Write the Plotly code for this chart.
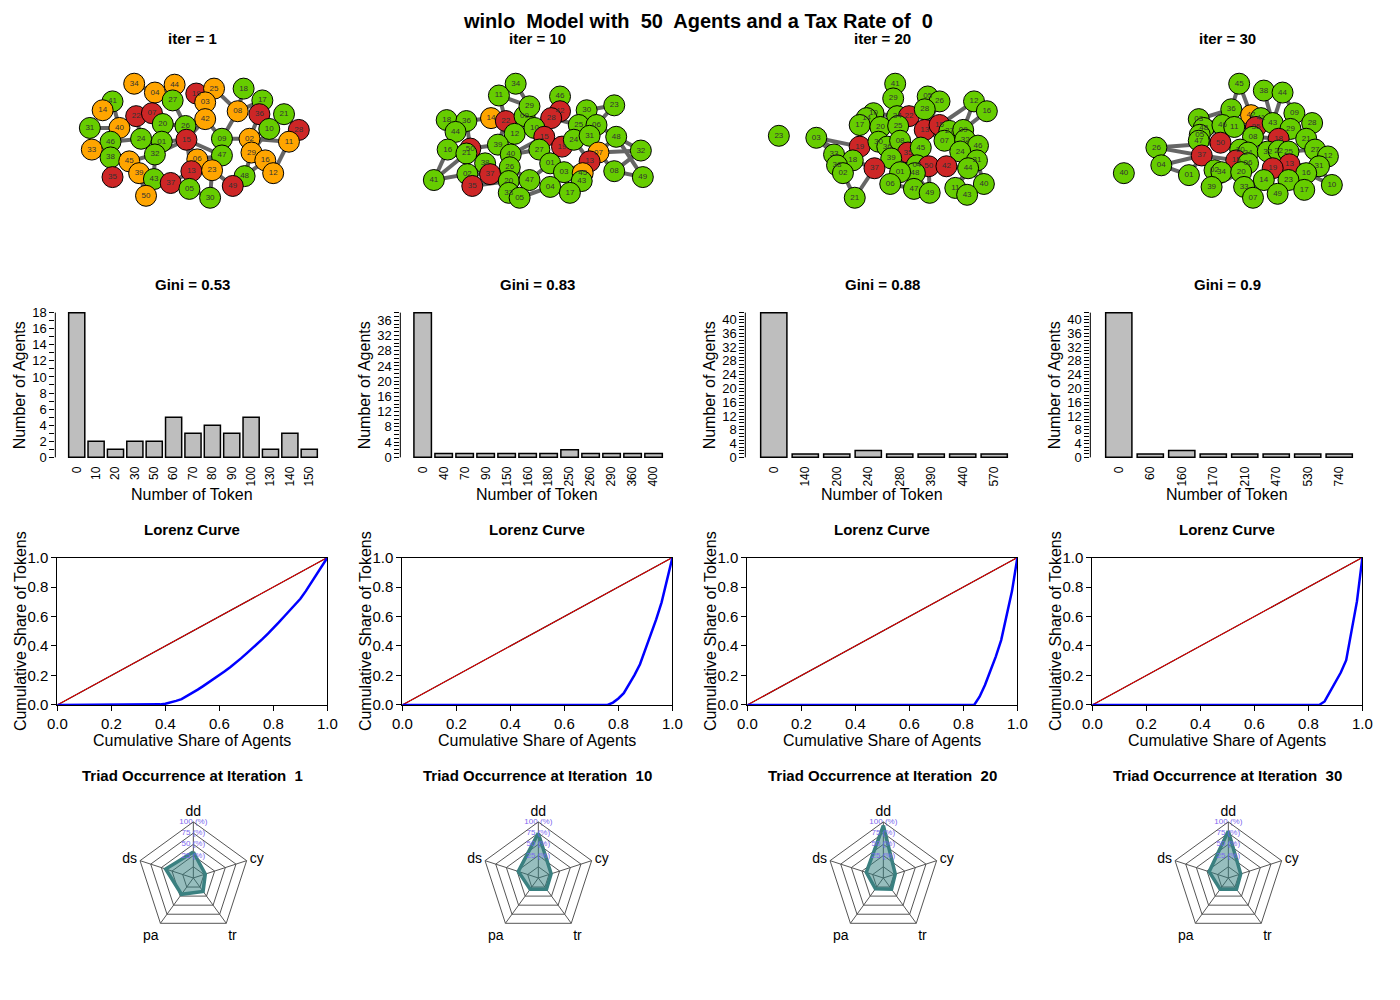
import plotly.graph_objects as go

W, H = 1400, 1000

iters = [1, 10, 20, 30]
gini = ["0.53", "0.83", "0.88", "0.9"]

# token histogram per iteration
tok1 = [0, 10, 20, 30, 50, 60, 70, 80, 90, 100, 130, 140, 150]
cnt1 = [18, 2, 1, 2, 2, 5, 3, 4, 3, 5, 1, 3, 1]
tok10 = [0, 40, 70, 90, 150, 160, 180, 250, 260, 290, 360, 400]
cnt10 = [38, 1, 1, 1, 1, 1, 1, 2, 1, 1, 1, 1]
tok20 = [0, 140, 200, 240, 280, 390, 440, 570]
cnt20 = [42, 1, 1, 2, 1, 1, 1, 1]
tok30 = [0, 60, 160, 170, 210, 470, 530, 740]
cnt30 = [42, 1, 2, 1, 1, 1, 1, 1]

# triad census (%)
triad_axes = ["dd", "cy", "tr", "pa", "ds"]
triad1 = [33, 3, 12, 20, 40]
triad10 = [75, 5, 6, 6, 22]
triad20 = [92, 3, 6, 5, 15]
triad30 = [80, 4, 6, 6, 20]
triad_ticks = [0, 25, 50, 75, 100]

# network layouts: label, x, y, state (g=green o=orange r=red)
net1_lab = ["34", "04", "44", "19", "25", "18", "41", "27", "03", "17", "14", "22", "07", "08", "36", "21", "42",
            "31", "40", "20", "26", "10", "28", "46", "24", "01", "15", "09", "02", "11", "33", "32", "47", "29",
            "16", "38", "45", "06", "12", "35", "39", "43", "13", "23", "48", "37", "05", "49", "50", "30"]
net1_x = [126, 147, 167, 189, 207, 237, 104, 165, 198, 256, 94, 128, 144, 231, 253, 278, 198,
          81, 111, 155, 178, 263, 293, 102, 133, 154, 179, 215, 243, 283, 83, 147, 215, 245,
          259, 102, 121, 190, 267, 104, 131, 146, 184, 205, 238, 163, 182, 226, 138, 203]
net1_y = [76, 85, 77, 86, 81, 81, 94, 93, 95, 93, 103, 109, 106, 104, 107, 107, 112,
          121, 121, 117, 119, 122, 123, 135, 132, 135, 133, 132, 132, 135, 143, 148, 149, 146,
          154, 151, 155, 153, 167, 171, 167, 173, 165, 164, 170, 177, 183, 180, 190, 192]
net1_st = ["o", "o", "o", "r", "o", "g", "g", "g", "o", "g", "o", "r", "r", "o", "r", "g", "o",
           "g", "o", "g", "g", "g", "r", "g", "g", "g", "r", "g", "o", "o", "o", "g", "g", "o",
           "o", "g", "o", "o", "o", "r", "o", "g", "r", "o", "g", "r", "g", "r", "o", "g"]
net1_edges = ("41-40 40-46 46-24 24-01 01-20 20-07 07-22 22-40 14-41 31-40 33-46 46-38 38-45 45-39 39-43 "
              "43-37 37-05 05-13 13-06 06-23 23-30 23-49 49-48 48-16 16-29 29-02 02-09 09-47 47-23 47-15 "
              "15-26 26-42 42-03 03-19 19-25 25-08 08-17 17-36 36-10 10-21 21-28 10-02 02-11 11-12 12-16 "
              "32-01 32-43 32-15 15-13 24-32 26-20 27-04 04-07 27-26 44-27 34-04 08-09 09-42 36-02 01-15 "
              "45-32 35-38 50-39 30-05 06-47 10-29 18-08 22-24 42-15 13-37 06-15 48-29")

net10_lab = ["34", "11", "46", "23", "18", "36", "14", "22", "09", "29", "42", "28", "30", "25", "06", "44", "12",
             "10", "15", "19", "24", "31", "48", "16", "50", "21", "39", "40", "27", "07", "32", "13", "38", "26",
             "01", "03", "45", "08", "41", "02", "37", "49", "20", "47", "43", "35", "33", "04", "17", "05"]
net10_x = [513, 496, 558, 613, 443, 463, 488, 503, 522, 527, 558, 549, 585, 577, 595, 452, 512,
           532, 542, 560, 572, 588, 615, 444, 467, 463, 495, 508, 537, 597, 640, 588, 482, 507,
           548, 562, 581, 613, 430, 464, 487, 642, 506, 527, 580, 469, 506, 548, 568, 517]
net10_y = [76, 88, 89, 98, 113, 114, 111, 114, 109, 99, 104, 111, 103, 118, 118, 125, 127,
           121, 130, 140, 133, 129, 130, 143, 142, 147, 138, 148, 143, 146, 144, 155, 157, 161,
           157, 166, 167, 165, 174, 168, 168, 171, 175, 174, 175, 180, 187, 181, 187, 192]
net10_st = ["g", "g", "g", "g", "g", "g", "o", "r", "g", "g", "r", "r", "g", "g", "g", "g", "g",
            "g", "r", "r", "g", "g", "g", "g", "r", "g", "g", "g", "g", "o", "g", "r", "g", "g",
            "g", "g", "o", "g", "g", "g", "r", "g", "g", "g", "g", "r", "g", "g", "g", "g"]
net10_edges = ("41-16 41-02 41-21 16-50 18-44 44-36 36-14 14-22 22-12 12-09 09-29 29-11 11-34 34-29 11-22 "
               "46-42 42-28 28-10 10-15 15-27 27-01 01-03 03-04 04-17 17-43 43-45 45-13 13-07 07-08 08-49 "
               "07-32 07-48 32-48 24-19 19-15 25-30 30-23 06-23 06-31 31-24 24-13 19-01 40-39 39-12 40-26 "
               "26-20 20-33 33-05 05-47 47-26 38-37 37-02 02-35 35-20 21-50 50-38 40-27 26-37 01-47 04-05 "
               "13-03 45-43 06-48 15-40 22-39 36-50 44-16 27-10 28-25 08-32 49-48 12-10 39-50")

net20_lab = ["41", "29", "05", "26", "12", "16", "10", "14", "34", "22", "28", "17", "20", "25", "13", "15", "27",
             "09", "23", "03", "19", "30", "36", "08", "07", "32", "46", "33", "35", "45", "24", "18", "39", "38",
             "31", "02", "37", "04", "50", "42", "44", "48", "01", "06", "40", "47", "11", "49", "43", "21"]
net20_x = [898, 896, 931, 943, 978, 991, 876, 869, 900, 912, 928, 862, 883, 901, 928, 943, 953,
           967, 780, 818, 862, 881, 890, 903, 948, 969, 982, 836, 911, 924, 964, 855, 894, 839,
           981, 845, 877, 920, 932, 950, 972, 918, 903, 893, 988, 917, 959, 933, 971, 857]
net20_y = [76, 91, 89, 94, 94, 104, 106, 111, 109, 109, 102, 118, 120, 119, 123, 118, 124,
           123, 129, 131, 140, 135, 140, 134, 134, 133, 139, 148, 146, 141, 145, 154, 152, 159,
           154, 167, 162, 159, 160, 160, 162, 167, 166, 178, 178, 183, 182, 187, 189, 192]
net20_st = ["g", "g", "g", "g", "g", "g", "g", "g", "g", "r", "g", "g", "g", "g", "r", "r", "g",
            "g", "g", "g", "r", "g", "g", "g", "g", "g", "g", "g", "r", "g", "g", "g", "g", "g",
            "g", "g", "r", "g", "r", "r", "g", "g", "g", "g", "g", "g", "g", "g", "g", "g"]
net20_edges = ("03-19 03-33 21-37 21-02 12-15 16-09 12-09 40-44 40-31 41-29 29-34 34-22 22-28 28-05 05-26 "
               "26-13 10-20 14-17 17-19 20-30 30-36 36-08 08-25 25-34 13-15 15-27 27-09 09-32 32-46 46-24 "
               "24-07 07-13 35-08 35-45 45-04 04-50 50-42 42-44 44-11 11-43 43-40 19-18 18-33 33-38 38-02 "
               "37-39 39-01 01-06 06-47 47-49 49-48 48-04 39-36 35-13 42-24 31-24 22-13 20-14 10-34 36-19 "
               "01-48 37-18 50-49 11-31 25-22 30-19 03-18 12-16")

net30_lab = ["45", "38", "44", "36", "42", "41", "09", "28", "03", "48", "05", "47", "46", "11", "35", "43", "29",
             "08", "18", "21", "50", "30", "24", "32", "22", "25", "27", "26", "37", "12", "15", "06", "13", "04",
             "19", "31", "01", "02", "34", "20", "16", "40", "14", "23", "10", "39", "33", "17", "49", "07"]
net30_x = [1247, 1272, 1291, 1239, 1259, 1269, 1303, 1321, 1206, 1211, 1207, 1206, 1230, 1242, 1264, 1281, 1299,
           1261, 1287, 1315, 1228, 1248, 1256, 1276, 1287, 1297, 1324, 1163, 1209, 1337, 1244, 1256, 1298, 1168,
           1281, 1328, 1196, 1222, 1229, 1249, 1315, 1130, 1272, 1297, 1341, 1219, 1252, 1313, 1286, 1261]
net30_y = [76, 83, 85, 102, 108, 111, 106, 116, 112, 121, 128, 134, 118, 120, 120, 116, 122,
           130, 132, 132, 136, 143, 146, 145, 144, 145, 143, 141, 149, 150, 154, 157, 158, 159,
           162, 160, 169, 164, 166, 166, 167, 167, 174, 174, 179, 181, 181, 184, 188, 192]
net30_st = ["g", "g", "g", "g", "o", "g", "g", "g", "g", "g", "g", "g", "g", "g", "r", "g", "g",
            "g", "r", "g", "r", "g", "g", "g", "g", "g", "g", "g", "r", "g", "r", "g", "r", "g",
            "r", "g", "g", "g", "g", "g", "g", "g", "g", "g", "g", "g", "g", "g", "g", "g"]
net30_edges = ("26-37 04-37 26-50 04-01 01-37 45-42 45-36 38-43 44-43 44-09 36-46 03-46 48-46 05-11 47-50 "
               "50-30 30-24 24-15 15-37 37-02 02-34 34-39 39-20 20-33 33-07 07-14 14-49 49-23 23-17 17-16 "
               "16-31 31-12 12-27 27-21 21-28 28-09 09-29 29-43 43-41 41-42 42-11 11-35 35-08 08-18 18-22 "
               "22-32 32-24 22-25 25-13 13-19 19-14 19-32 06-20 06-15 06-24 10-31 10-16 29-21 27-25 08-30 "
               "46-11 48-05 03-36 47-37 16-23 13-31 26-04")

nets = [(net1_lab, net1_x, net1_y, net1_st, net1_edges),
        (net10_lab, net10_x, net10_y, net10_st, net10_edges),
        (net20_lab, net20_x, net20_y, net20_st, net20_edges),
        (net30_lab, net30_x, net30_y, net30_st, net30_edges)]
hists = [(tok1, cnt1), (tok10, cnt10), (tok20, cnt20), (tok30, cnt30)]
triads = [triad1, triad10, triad20, triad30]

state_col = {"g": "#66CD00", "o": "#FFA500", "r": "#CD2626"}
FONT = "Arial, Liberation Sans, sans-serif"


def dx(a, b):
    return [a / W, b / W]


def dy(top, bot):
    return [1 - bot / H, 1 - top / H]


def names(k):
    return ("x" if k == 1 else f"x{k}"), ("y" if k == 1 else f"y{k}")


def lorenz(tokens, counts):
    vals = []
    for t, c in zip(tokens, counts):
        vals += [t] * c
    vals.sort()
    total = sum(vals)
    xs, ys, run = [0.0], [0.0], 0
    for i, v in enumerate(vals):
        run += v
        xs.append((i + 1) / len(vals))
        ys.append(run / total)
    return xs, ys


fig = go.Figure()
lay = {}
shapes = []
ann = []


def label(text, x, y, size=16, bold=False, angle=0):
    ann.append(dict(text=f"<b>{text}</b>" if bold else text, x=x / W, y=1 - y / H,
                    xref="paper", yref="paper", showarrow=False, textangle=angle,
                    font=dict(size=size, color="black", family=FONT),
                    xanchor="center", yanchor="middle"))


label("winlo\u00a0 Model with\u00a0 50\u00a0 Agents and a Tax Rate of\u00a0 0", 698, 12, 20, True)

for c in range(4):
    ox = 350 * c
    cx = ox + 185

    # --- network ---
    lab, xs, ys, st, edges = nets[c]
    pos = {l: (x, y) for l, x, y in zip(lab, xs, ys)}
    ex, ey = [], []
    for e in edges.split():
        a, b = e.split("-")
        ex += [pos[a][0], pos[b][0], None]
        ey += [pos[a][1], pos[b][1], None]
    xa, ya = names(c + 1)
    fig.add_trace(go.Scatter(x=ex, y=ey, mode="lines", line=dict(color="#666666", width=4),
                             xaxis=xa, yaxis=ya, hoverinfo="skip"))
    fig.add_trace(go.Scatter(x=xs, y=ys, mode="markers+text", text=lab, textposition="middle center",
                             textfont=dict(size=8, color="#333333", family=FONT),
                             marker=dict(size=21, color=[state_col[s] for s in st],
                                         line=dict(color="black", width=1)),
                             xaxis=xa, yaxis=ya))
    hide = dict(visible=False, showgrid=False, zeroline=False)
    lay["xaxis" + xa[1:]] = dict(domain=dx(ox + 15, ox + 340), range=[ox + 15, ox + 340], anchor=ya, **hide)
    lay["yaxis" + ya[1:]] = dict(domain=dy(40, 215), range=[215, 40], anchor=xa, **hide)
    label(f"iter = {iters[c]}", cx, 30, 15, True)

    # --- histogram ---
    tok, cnt = hists[c]
    n, m = len(tok), max(cnt)
    xa, ya = names(c + 5)
    fig.add_trace(go.Bar(x=list(range(n)), y=cnt, width=1 / 1.2,
                         marker=dict(color="#BEBEBE", line=dict(color="black", width=1.5)),
                         xaxis=xa, yaxis=ya))
    step = 2 if m < 20 else 4
    lay["xaxis" + xa[1:]] = dict(domain=dx(ox + 46, ox + 322),
                                 range=[(-0.048 * n - 0.7) / 1.2, (1.248 * n - 0.7) / 1.2],
                                 tickvals=list(range(n)), ticktext=[str(t) for t in tok], tickangle=-90,
                                 tickfont=dict(size=12), showline=False, showgrid=False, zeroline=False,
                                 ticks="", anchor=ya)
    lay["yaxis" + ya[1:]] = dict(domain=dy(303, 462), range=[-0.04 * m, 1.04 * m],
                                 tickvals=list(range(m + 1)),
                                 ticktext=[str(v) if v % step == 0 else "" for v in range(m + 1)],
                                 tickfont=dict(size=13), ticks="outside", ticklen=5, tickcolor="black",
                                 showline=False, showgrid=False, zeroline=False, anchor=xa)
    shapes.append(dict(type="line", xref=f"{xa} domain", yref=ya, x0=0, x1=0, y0=0, y1=m,
                       line=dict(color="black", width=1)))
    label(f"Gini = {gini[c]}", cx, 280, 15, True)
    label("Number of Token", cx, 494, 16)
    label("Number of Agents", ox + 10, 383, 16, angle=-90)

    # --- Lorenz curve ---
    lx, ly = lorenz(tok, cnt)
    xa, ya = names(c + 9)
    fig.add_trace(go.Scatter(x=[0, 1], y=[0, 1], mode="lines", line=dict(color="black", width=1.2),
                             xaxis=xa, yaxis=ya))
    fig.add_trace(go.Scatter(x=[0, 1], y=[0, 1], mode="lines", line=dict(color="red", width=1),
                             xaxis=xa, yaxis=ya))
    fig.add_trace(go.Scatter(x=lx, y=ly, mode="lines", line=dict(color="blue", width=2.5),
                             xaxis=xa, yaxis=ya))
    tv = [0, 0.2, 0.4, 0.6, 0.8, 1.0]
    common = dict(range=[0, 1], tickvals=tv, ticktext=[f"{v:.1f}" for v in tv], tickfont=dict(size=15),
                  ticks="outside", ticklen=5, tickcolor="black", showline=True, mirror=True,
                  linecolor="black", linewidth=1, showgrid=False, zeroline=False)
    lay["xaxis" + xa[1:]] = dict(domain=dx(ox + 48, ox + 322), anchor=ya, **common)
    lay["yaxis" + ya[1:]] = dict(domain=dy(558, 708), anchor=xa, **common)
    label("Lorenz Curve", cx, 530, 15, True)
    label("Cumulative Share of Agents", cx, 744, 16)
    label("Cumulative Share of Tokens", ox + 10, 633, 16, angle=-90)

    # --- triad radar ---
    pname = "polar" if c == 0 else f"polar{c + 1}"
    tr = triads[c]
    fig.add_trace(go.Scatterpolar(r=tr + [tr[0]], theta=triad_axes + [triad_axes[0]], subplot=pname,
                                  mode="lines", fill="toself", fillcolor="rgba(47,125,125,0.5)",
                                  line=dict(color="rgb(58,128,128)", width=3.5)))
    fig.add_trace(go.Scatterpolar(r=triad_ticks, theta=[triad_axes[0]] * len(triad_ticks), subplot=pname,
                                  mode="text", text=[f"{v} (%)" for v in triad_ticks],
                                  textfont=dict(size=8, color="#7B68EE", family=FONT)))
    pcx, pcy, R = ox + 186, 884, 57
    lay[pname] = dict(domain=dict(x=dx(pcx - R, pcx + R), y=dy(pcy - R, pcy + R)),
                      bgcolor="white", gridshape="linear",
                      radialaxis=dict(range=[-25, 100], tickvals=triad_ticks, showticklabels=False,
                                      showline=False, ticks="", gridcolor="#555555", gridwidth=1, angle=90),
                      angularaxis=dict(direction="clockwise", rotation=90, tickfont=dict(size=14),
                                       linecolor="#555555", gridcolor="#555555", ticks=""))
    label(f"Triad Occurrence at Iteration\u00a0 {iters[c]}", cx, 780, 15, True)

fig.update_layout(width=W, height=H, margin=dict(l=0, r=0, t=0, b=0), showlegend=False,
                  paper_bgcolor="white", plot_bgcolor="white",
                  font=dict(family=FONT, color="black"), shapes=shapes, annotations=ann, **lay)
# the page body has a default 8px margin; drop it so the 1400x1000 figure fills the window
fig.write_html("out.html", config={"displayModeBar": False},
               post_script="document.body.style.margin='0';document.body.style.overflow='hidden';")
